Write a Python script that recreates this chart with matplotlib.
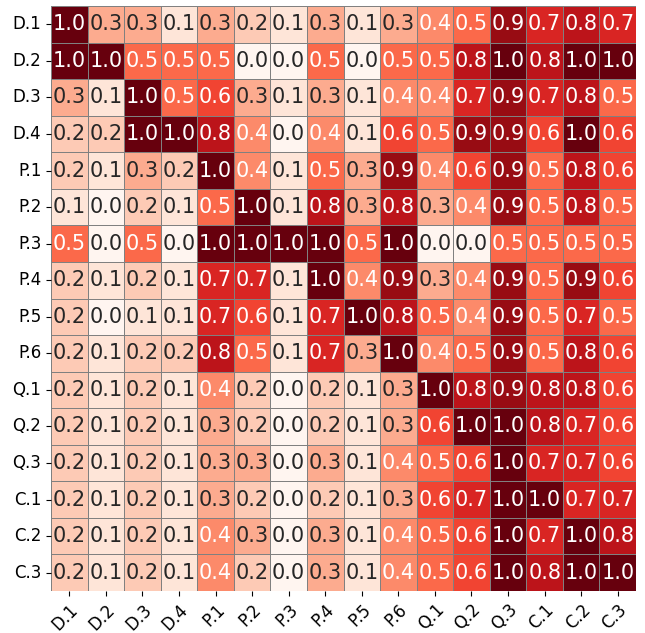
import numpy as np
import matplotlib
matplotlib.use("Agg")
import matplotlib.pyplot as plt
import seaborn as sns

labels = ["D.1", "D.2", "D.3", "D.4", "P.1", "P.2", "P.3", "P.4", "P.5", "P.6",
          "Q.1", "Q.2", "Q.3", "C.1", "C.2", "C.3"]

# rows of the matrix, one list per row label
d1 = [1.0, 0.3, 0.3, 0.1, 0.3, 0.2, 0.1, 0.3, 0.1, 0.3, 0.4, 0.5, 0.9, 0.7, 0.8, 0.7]
d2 = [1.0, 1.0, 0.5, 0.5, 0.5, 0.0, 0.0, 0.5, 0.0, 0.5, 0.5, 0.8, 1.0, 0.8, 1.0, 1.0]
d3 = [0.3, 0.1, 1.0, 0.5, 0.6, 0.3, 0.1, 0.3, 0.1, 0.4, 0.4, 0.7, 0.9, 0.7, 0.8, 0.5]
d4 = [0.2, 0.2, 1.0, 1.0, 0.8, 0.4, 0.0, 0.4, 0.1, 0.6, 0.5, 0.9, 0.9, 0.6, 1.0, 0.6]
p1 = [0.2, 0.1, 0.3, 0.2, 1.0, 0.4, 0.1, 0.5, 0.3, 0.9, 0.4, 0.6, 0.9, 0.5, 0.8, 0.6]
p2 = [0.1, 0.0, 0.2, 0.1, 0.5, 1.0, 0.1, 0.8, 0.3, 0.8, 0.3, 0.4, 0.9, 0.5, 0.8, 0.5]
p3 = [0.5, 0.0, 0.5, 0.0, 1.0, 1.0, 1.0, 1.0, 0.5, 1.0, 0.0, 0.0, 0.5, 0.5, 0.5, 0.5]
p4 = [0.2, 0.1, 0.2, 0.1, 0.7, 0.7, 0.1, 1.0, 0.4, 0.9, 0.3, 0.4, 0.9, 0.5, 0.9, 0.6]
p5 = [0.2, 0.0, 0.1, 0.1, 0.7, 0.6, 0.1, 0.7, 1.0, 0.8, 0.5, 0.4, 0.9, 0.5, 0.7, 0.5]
p6 = [0.2, 0.1, 0.2, 0.2, 0.8, 0.5, 0.1, 0.7, 0.3, 1.0, 0.4, 0.5, 0.9, 0.5, 0.8, 0.6]
q1 = [0.2, 0.1, 0.2, 0.1, 0.4, 0.2, 0.0, 0.2, 0.1, 0.3, 1.0, 0.8, 0.9, 0.8, 0.8, 0.6]
q2 = [0.2, 0.1, 0.2, 0.1, 0.3, 0.2, 0.0, 0.2, 0.1, 0.3, 0.6, 1.0, 1.0, 0.8, 0.7, 0.6]
q3 = [0.2, 0.1, 0.2, 0.1, 0.3, 0.3, 0.0, 0.3, 0.1, 0.4, 0.5, 0.6, 1.0, 0.7, 0.7, 0.6]
c1 = [0.2, 0.1, 0.2, 0.1, 0.3, 0.2, 0.0, 0.2, 0.1, 0.3, 0.6, 0.7, 1.0, 1.0, 0.7, 0.7]
c2 = [0.2, 0.1, 0.2, 0.1, 0.4, 0.3, 0.0, 0.3, 0.1, 0.4, 0.5, 0.6, 1.0, 0.7, 1.0, 0.8]
c3 = [0.2, 0.1, 0.2, 0.1, 0.4, 0.2, 0.0, 0.3, 0.1, 0.4, 0.5, 0.6, 1.0, 0.8, 1.0, 1.0]

matrix = np.array([d1, d2, d3, d4, p1, p2, p3, p4, p5, p6, q1, q2, q3, c1, c2, c3])

fig = plt.figure(figsize=(6.45, 6.33), dpi=100)
ax = fig.add_axes([0.0791, 0.0664, 0.907, 0.924])

sns.heatmap(matrix, ax=ax, cmap="Reds", vmin=0, vmax=1, cbar=False,
            linewidths=0.5, linecolor="grey",
            xticklabels=labels, yticklabels=labels)

# annotations: white text on the darker cells
for i in range(matrix.shape[0]):
    for j in range(matrix.shape[1]):
        v = matrix[i, j]
        col = "white" if v >= 0.35 else "#262626"
        ax.text(j + 0.5, i + 0.5, f"{v:.1f}", ha="center", va="center",
                fontsize=15, color=col)

ax.tick_params(axis="both", labelsize=12)
plt.setp(ax.get_xticklabels(), rotation=45, ha="right", rotation_mode="anchor")
plt.setp(ax.get_yticklabels(), rotation=0)

fig.savefig("out.png", dpi=100)
